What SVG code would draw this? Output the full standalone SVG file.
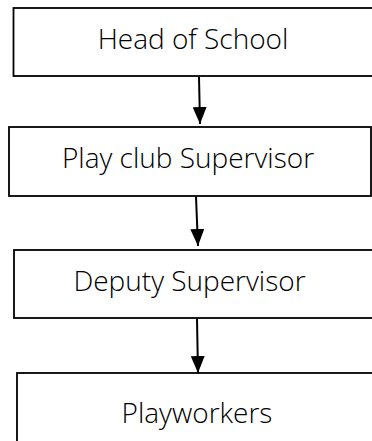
<svg xmlns="http://www.w3.org/2000/svg" width="372" height="441" viewBox="0 0 372 441">
<style>
.box{fill:#fff;stroke:#000;stroke-width:1.8}
.lbl{font-family:"Open Sans","Liberation Sans",sans-serif;font-weight:300;font-size:28px;fill:#000;text-anchor:middle}
.con{stroke:#000;stroke-width:2;fill:none}
</style>
<defs>
<marker id="ah" markerUnits="userSpaceOnUse" markerWidth="18" markerHeight="14" refX="17" refY="7" orient="auto">
<path d="M0,0 L17,7 L0,14 Z" fill="#000"/>
</marker>
</defs>
<rect width="372" height="441" fill="#fff"/>
<g id="connectors">
<line class="con" x1="199" y1="77" x2="200" y2="124" marker-end="url(#ah)"/>
<line class="con" x1="196" y1="197" x2="198" y2="246" marker-end="url(#ah)"/>
<line class="con" x1="197" y1="319" x2="198" y2="373" marker-end="url(#ah)"/>
</g>
<g id="head">
<rect class="box" x="13.5" y="8" width="380" height="68"/>
<text class="lbl" x="193" y="49">Head of School</text>
</g>
<g id="supervisor">
<rect class="box" x="9" y="127" width="362" height="69"/>
<text class="lbl" x="188" y="168">Play club Supervisor</text>
</g>
<g id="deputy">
<rect class="box" x="14" y="250" width="380" height="68"/>
<text class="lbl" x="189.5" y="291">Deputy Supervisor</text>
</g>
<g id="playworkers">
<rect class="box" x="17" y="373" width="380" height="100"/>
<text class="lbl" x="197" y="423">Playworkers</text>
</g>
</svg>
